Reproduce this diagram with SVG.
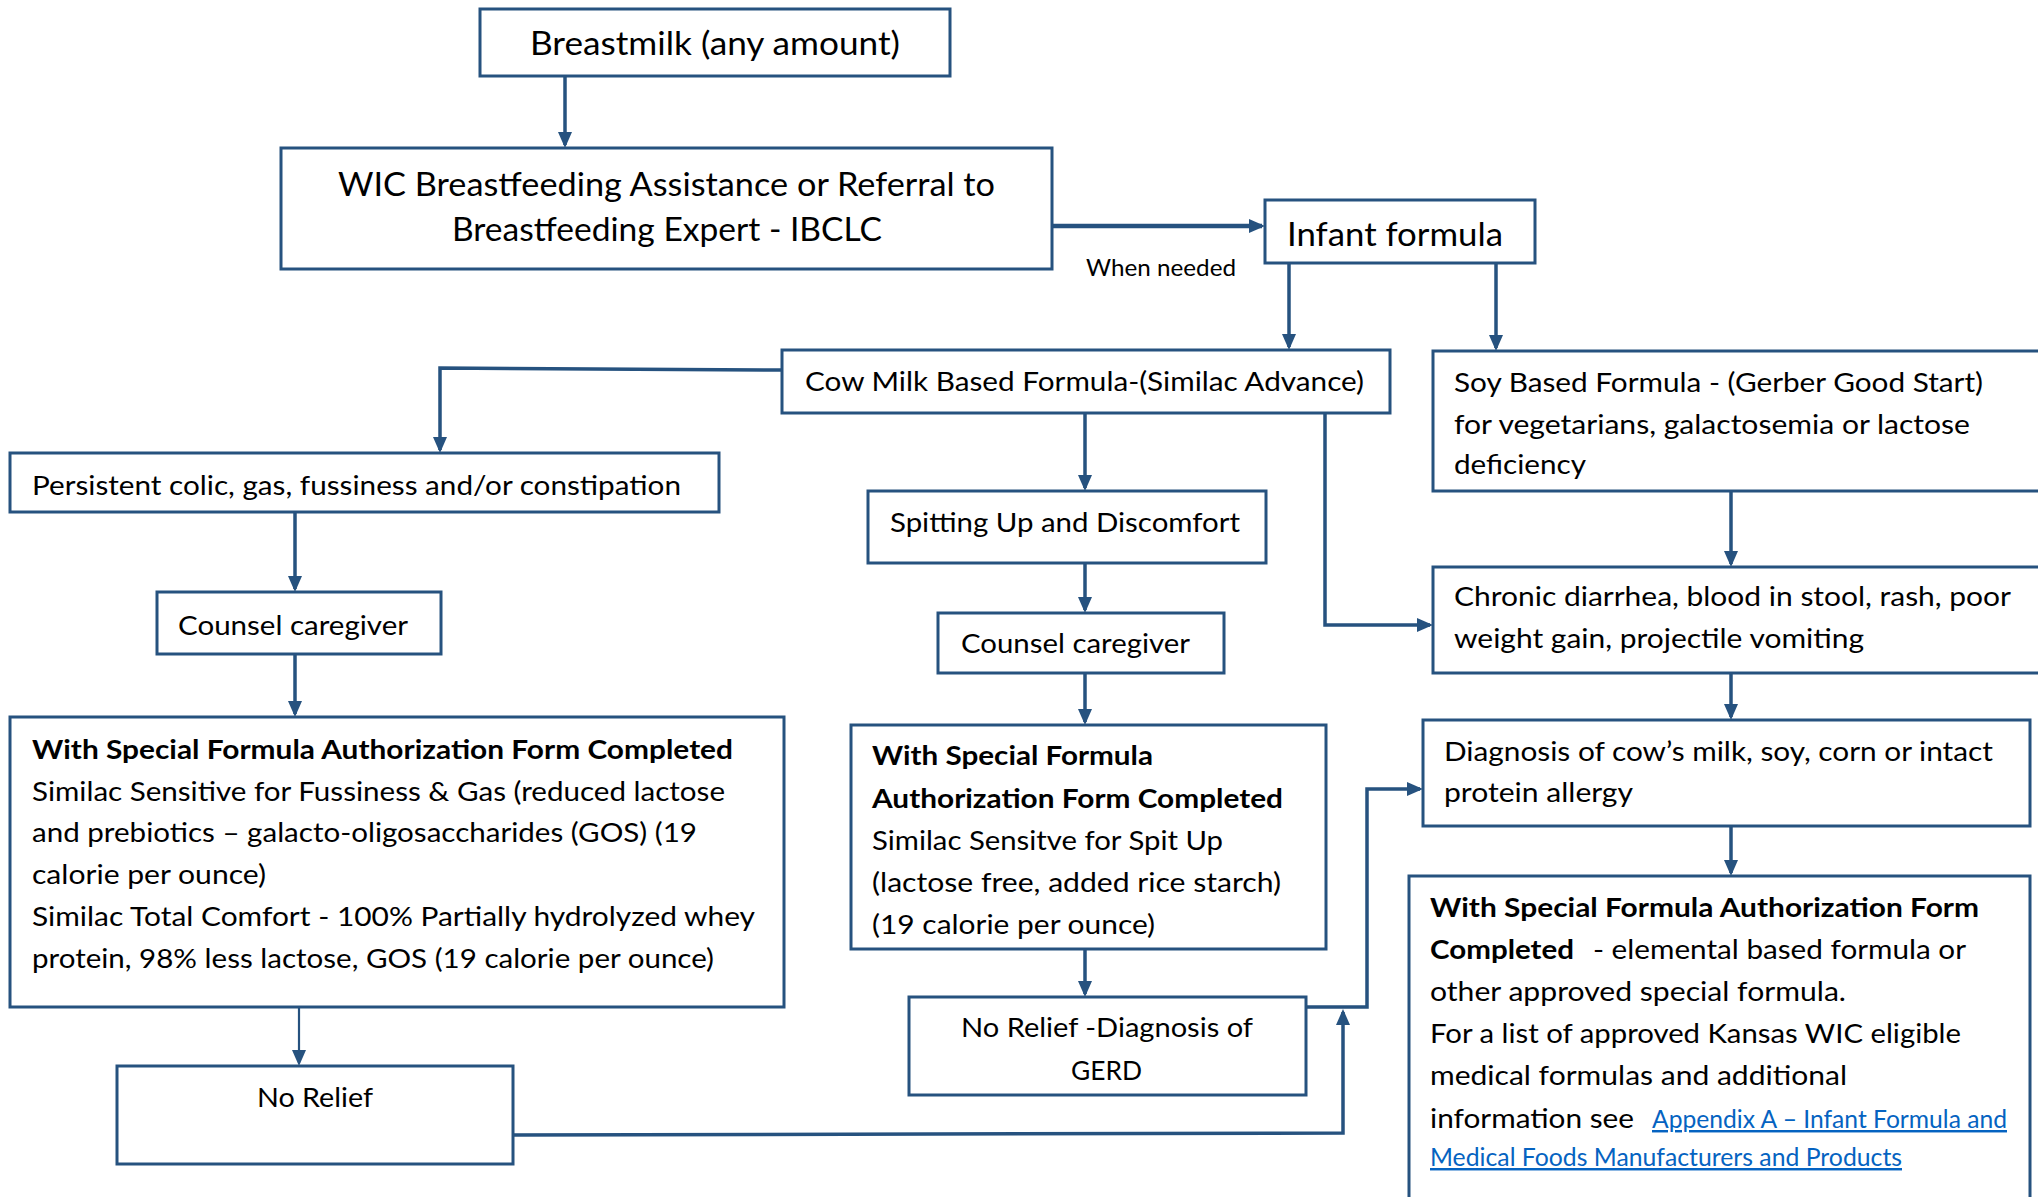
<svg xmlns="http://www.w3.org/2000/svg" width="2038" height="1197" viewBox="0 0 2038 1197">
<style>
.box{fill:#fff;stroke:#26527F;stroke-width:3}
.t{font-family:Lato,"Open Sans","Liberation Sans",sans-serif;font-size:27.5px;fill:#000}
.big{font-size:32px}
.sm{font-size:23px}
.bd{font-weight:bold}
.lk{fill:#0563C1;font-size:24.5px;text-decoration:underline}
.c{fill:none;stroke:#26527F;stroke-width:3.5;marker-end:url(#ah)}
</style>
<defs>
<marker id="ah" markerUnits="userSpaceOnUse" markerWidth="17" markerHeight="15" refX="13" refY="7" orient="auto"><path d="M0,0 L16,7 L0,14 z" fill="#26527F"/></marker>
</defs>
<rect x="0" y="0" width="2038" height="1197" fill="#fff"/>

<g id="connectors">
<path class="c" d="M565,77 V145"/>
<path class="c" d="M1052,226 H1262" style="stroke-width:4.5"/>
<path class="c" d="M1289,263 V347"/>
<path class="c" d="M1496,263 V348"/>
<path class="c" d="M782,370 L440,368 V450"/>
<path class="c" d="M1085,413 V488"/>
<path class="c" d="M1085,563 V610"/>
<path class="c" d="M1085,673 V722"/>
<path class="c" d="M1085,949 V994"/>
<path class="c" d="M1325,413 V625 H1430"/>
<path class="c" d="M1731,491 V564"/>
<path class="c" d="M1731,673 V717"/>
<path class="c" d="M1731,827 V873"/>
<path class="c" d="M295,512 V589"/>
<path class="c" d="M295,654 V714"/>
<path class="c" d="M299,1007 V1063" style="stroke-width:2.2"/>
<path class="c" d="M513,1135 L1343,1133 V1012"/>
<path class="c" d="M1306,1007 H1367 V789 H1420"/>
</g>

<g id="breastmilk">
<rect class="box" x="480" y="9" width="470" height="67"/>
<text class="t big" x="530" y="55" textLength="370" lengthAdjust="spacingAndGlyphs">Breastmilk (any amount)</text>
</g>

<g id="wic">
<rect class="box" x="281" y="148" width="771" height="121"/>
<text class="t big" x="338" y="196" textLength="657" lengthAdjust="spacingAndGlyphs">WIC Breastfeeding Assistance or Referral to</text>
<text class="t big" x="452" y="241" textLength="430" lengthAdjust="spacingAndGlyphs">Breastfeeding Expert - IBCLC</text>
</g>

<g id="when-needed">
<text class="t sm" x="1086" y="276" textLength="150" lengthAdjust="spacingAndGlyphs">When needed</text>
</g>

<g id="infant-formula">
<rect class="box" x="1265" y="200" width="270" height="63"/>
<text class="t big" x="1287" y="246" textLength="216" lengthAdjust="spacingAndGlyphs">Infant formula</text>
</g>

<g id="cow-milk">
<rect class="box" x="782" y="350" width="608" height="63"/>
<text class="t" x="805" y="391" textLength="559" lengthAdjust="spacingAndGlyphs">Cow Milk Based Formula-(Similac Advance)</text>
</g>

<g id="soy">
<rect class="box" x="1433" y="351" width="620" height="140"/>
<text class="t" x="1454" y="392" textLength="529" lengthAdjust="spacingAndGlyphs">Soy Based Formula - (Gerber Good Start)</text>
<text class="t" x="1454" y="434" textLength="516" lengthAdjust="spacingAndGlyphs">for vegetarians, galactosemia or lactose</text>
<text class="t" x="1454" y="474" textLength="132" lengthAdjust="spacingAndGlyphs">deficiency</text>
</g>

<g id="persistent">
<rect class="box" x="10" y="453" width="709" height="59"/>
<text class="t" x="32" y="495" textLength="649" lengthAdjust="spacingAndGlyphs">Persistent colic, gas, fussiness and/or constipation</text>
</g>

<g id="spitting">
<rect class="box" x="868" y="491" width="398" height="72"/>
<text class="t" x="890" y="532" textLength="350" lengthAdjust="spacingAndGlyphs">Spitting Up and Discomfort</text>
</g>

<g id="counsel-1">
<rect class="box" x="157" y="592" width="284" height="62"/>
<text class="t" x="178" y="635" textLength="230" lengthAdjust="spacingAndGlyphs">Counsel caregiver</text>
</g>

<g id="counsel-2">
<rect class="box" x="938" y="613" width="286" height="60"/>
<text class="t" x="961" y="653" textLength="229" lengthAdjust="spacingAndGlyphs">Counsel caregiver</text>
</g>

<g id="chronic">
<rect class="box" x="1433" y="567" width="620" height="106"/>
<text class="t" x="1454" y="606" textLength="557" lengthAdjust="spacingAndGlyphs">Chronic diarrhea, blood in stool, rash, poor</text>
<text class="t" x="1454" y="648" textLength="410" lengthAdjust="spacingAndGlyphs">weight gain, projectile vomiting</text>
</g>

<g id="special-1">
<rect class="box" x="10" y="717" width="774" height="290"/>
<text class="t bd" x="32" y="759" textLength="701" lengthAdjust="spacingAndGlyphs">With Special Formula Authorization Form Completed</text>
<text class="t" x="32" y="801" textLength="693" lengthAdjust="spacingAndGlyphs">Similac Sensitive for Fussiness &amp; Gas (reduced lactose</text>
<text class="t" x="32" y="842" textLength="665" lengthAdjust="spacingAndGlyphs">and prebiotics – galacto-oligosaccharides (GOS) (19</text>
<text class="t" x="32" y="884" textLength="234" lengthAdjust="spacingAndGlyphs">calorie per ounce)</text>
<text class="t" x="32" y="926" textLength="723" lengthAdjust="spacingAndGlyphs">Similac Total Comfort  - 100% Partially hydrolyzed whey</text>
<text class="t" x="32" y="968" textLength="682" lengthAdjust="spacingAndGlyphs">protein, 98% less lactose, GOS (19 calorie per ounce)</text>
</g>

<g id="special-2">
<rect class="box" x="851" y="725" width="475" height="224"/>
<text class="t bd" x="872" y="765" textLength="281" lengthAdjust="spacingAndGlyphs">With Special Formula</text>
<text class="t bd" x="872" y="808" textLength="411" lengthAdjust="spacingAndGlyphs">Authorization Form Completed</text>
<text class="t" x="872" y="850" textLength="351" lengthAdjust="spacingAndGlyphs">Similac Sensitve for Spit Up</text>
<text class="t" x="872" y="892" textLength="409" lengthAdjust="spacingAndGlyphs">(lactose free, added rice starch)</text>
<text class="t" x="872" y="934" textLength="283" lengthAdjust="spacingAndGlyphs">(19 calorie per ounce)</text>
</g>

<g id="gerd">
<rect class="box" x="909" y="997" width="397" height="98"/>
<text class="t" x="961" y="1037" textLength="292" lengthAdjust="spacingAndGlyphs">No Relief -Diagnosis of</text>
<text class="t" x="1071" y="1080" textLength="71" lengthAdjust="spacingAndGlyphs">GERD</text>
</g>

<g id="no-relief">
<rect class="box" x="117" y="1066" width="396" height="98"/>
<text class="t" x="257" y="1107" textLength="116" lengthAdjust="spacingAndGlyphs">No Relief</text>
</g>

<g id="diagnosis">
<rect class="box" x="1423" y="720" width="607" height="106"/>
<text class="t" x="1444" y="761" textLength="549" lengthAdjust="spacingAndGlyphs">Diagnosis of cow’s milk, soy, corn or intact</text>
<text class="t" x="1444" y="802" textLength="189" lengthAdjust="spacingAndGlyphs">protein allergy</text>
</g>

<g id="special-3">
<rect class="box" x="1409" y="876" width="621" height="340"/>
<text class="t bd" x="1430" y="917" textLength="549" lengthAdjust="spacingAndGlyphs">With Special Formula Authorization Form</text>
<text class="t bd" x="1430" y="959" textLength="144" lengthAdjust="spacingAndGlyphs">Completed</text>
<text class="t" x="1593" y="959" textLength="373" lengthAdjust="spacingAndGlyphs">- elemental based formula or</text>
<text class="t" x="1430" y="1001" textLength="416" lengthAdjust="spacingAndGlyphs">other approved special formula.</text>
<text class="t" x="1430" y="1043" textLength="531" lengthAdjust="spacingAndGlyphs">For a list of approved Kansas WIC eligible</text>
<text class="t" x="1430" y="1085" textLength="417" lengthAdjust="spacingAndGlyphs">medical formulas and additional</text>
<text class="t" x="1430" y="1128" textLength="204" lengthAdjust="spacingAndGlyphs">information see</text>
<text class="t lk" x="1652" y="1128" textLength="355" lengthAdjust="spacingAndGlyphs">Appendix A – Infant Formula and</text>
<text class="t lk" x="1430" y="1166" textLength="472" lengthAdjust="spacingAndGlyphs">Medical Foods Manufacturers and Products</text>
</g>
</svg>
